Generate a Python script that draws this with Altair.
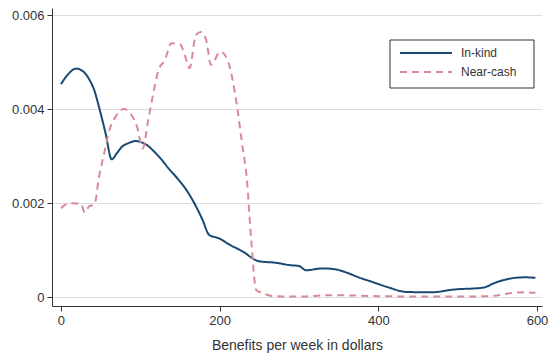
import altair as alt
import pandas as pd

inkind_x = [0, 8, 19, 28, 36, 42, 48, 56, 64, 70, 77, 86, 94, 100, 106, 116, 127, 135, 148, 158, 168, 178, 187, 199, 213, 230, 245, 250, 271, 288, 300, 309, 329, 346, 360, 375, 391, 412, 435, 466, 495, 532, 548, 560, 573, 585, 598]
inkind_y = [0.00453, 0.00472, 0.00486, 0.00480, 0.00462, 0.00440, 0.00404, 0.00350, 0.00293, 0.00305, 0.00320, 0.00328, 0.00332, 0.00330, 0.00326, 0.00312, 0.00292, 0.00275, 0.00250, 0.00228, 0.00200, 0.00166, 0.00132, 0.00125, 0.00111, 0.00096, 0.00079, 0.00076, 0.00073, 0.00068, 0.00066, 0.00057, 0.00061, 0.00059, 0.00052, 0.00042, 0.00033, 0.00021, 0.00011, 0.00010, 0.00016, 0.00020, 0.00031, 0.00037, 0.00041, 0.00042, 0.00041]

cash_x = [0, 11, 19, 25, 30, 36, 42, 48, 55, 61, 69, 79, 90, 96, 103, 110, 116, 123, 131, 139, 150, 156, 162, 170, 176, 183, 189, 201, 210, 216, 222, 228, 234, 240, 246, 255, 267, 300, 340, 400, 450, 500, 540, 552, 569, 585, 598]
cash_y = [0.00189, 0.00200, 0.00199, 0.00199, 0.00180, 0.00194, 0.00196, 0.00256, 0.00310, 0.00355, 0.00384, 0.00400, 0.00384, 0.00362, 0.00316, 0.00377, 0.00430, 0.00483, 0.00504, 0.00540, 0.00538, 0.00515, 0.00487, 0.00557, 0.00564, 0.00547, 0.00494, 0.00522, 0.00504, 0.00465, 0.00405, 0.00330, 0.00256, 0.00118, 0.00015, 0.00008, 0.00002, 0.00001, 0.00004, 0.00002, 0.00001, 0.00001, 0.00002, 0.00004, 0.00009, 0.00010, 0.00009]

series = ["In-kind", "Near-cash"]
colors = ["#1a4a74", "#d98a98"]
dashes = [[1, 0], [7, 5]]

df = pd.concat([
    pd.DataFrame({"x": inkind_x, "y": inkind_y, "s": series[0], "o": range(len(inkind_x))}),
    pd.DataFrame({"x": cash_x, "y": cash_y, "s": series[1], "o": range(len(cash_x))}),
])

font = "Liberation Sans"

lines = alt.Chart(df).mark_line(strokeWidth=2, interpolate="monotone").encode(
    x=alt.X("x:Q", scale=alt.Scale(domain=[-11.3, 606.3], nice=False, zero=False),
            axis=alt.Axis(values=[0, 200, 400, 600], title="Benefits per week in dollars",
                          grid=False, labelFontSize=13, titleFontSize=14, tickSize=5,
                          labelPadding=3, titlePadding=11)),
    y=alt.Y("y:Q", scale=alt.Scale(domain=[-0.00019, 0.00615], nice=False, zero=False),
            axis=alt.Axis(values=[0, 0.002, 0.004, 0.006], title=None, grid=True,
                          labelExpr="datum.value == 0 ? '0' : format(datum.value, '.3f')",
                          labelFontSize=13, tickSize=5, labelPadding=3)),
    color=alt.Color("s:N", scale=alt.Scale(domain=series, range=colors), legend=None),
    strokeDash=alt.StrokeDash("s:N", scale=alt.Scale(domain=series, range=dashes), legend=None),
    order="o:Q",
)

# manual legend box (Stata style)
one = pd.DataFrame({"a": [0]})
box = alt.Chart(one).mark_rect(fill="white", stroke="#333333", strokeWidth=1).encode(
    x=alt.value(338), x2=alt.value(482), y=alt.value(32), y2=alt.value(80)
)
layers = [lines, box]
for i, name in enumerate(series):
    yy = 45 + 19 * i
    layers.append(
        alt.Chart(one).mark_rule(color=colors[i], strokeWidth=2, strokeDash=dashes[i]).encode(
            x=alt.value(348), x2=alt.value(400), y=alt.value(yy)
        )
    )
    layers.append(
        alt.Chart(one).mark_text(text=name, align="left", baseline="middle", font=font,
                                 fontSize=12, color="#333333").encode(
            x=alt.value(409), y=alt.value(yy)
        )
    )

chart = alt.layer(*layers).properties(
    width=490, height=298,
    autosize=alt.AutoSizeParams(type="none"),
    padding={"left": 44, "top": 0, "right": 7, "bottom": 48},
).configure_view(stroke=None).configure_axis(
    domainColor="#333333", tickColor="#333333", labelColor="#333333", titleColor="#333333",
    gridColor="#dddddd", labelFont=font, titleFont=font, titleFontWeight="normal",
)

chart.save("out.html", embed_options={"renderer": "svg", "actions": False})
